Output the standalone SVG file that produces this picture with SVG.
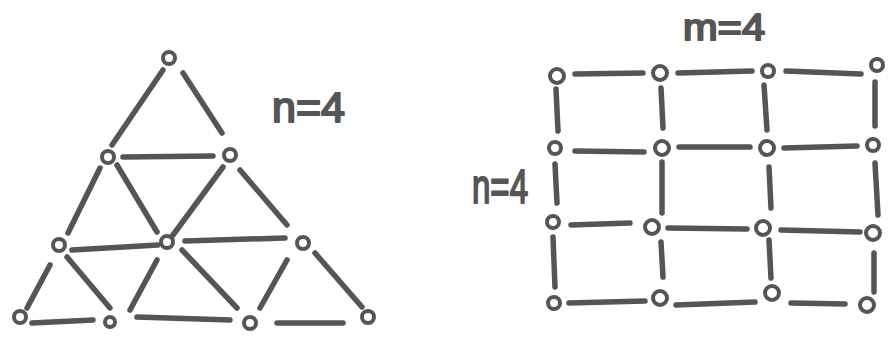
<svg xmlns="http://www.w3.org/2000/svg" width="891" height="338" viewBox="0 0 891 338">
<style>
.e{stroke:#555;stroke-width:5.5;stroke-linecap:round;fill:none}
.n{fill:#fff;stroke:#555;stroke-width:4}
.t{font-family:"Liberation Sans",Arial,sans-serif;fill:#555;stroke:#555;stroke-width:2;stroke-linejoin:round}
</style>
<rect width="891" height="338" fill="#fff"/>
<g id="connectors">
<line class="e" x1="163" y1="70" x2="112" y2="145"/>
<line class="e" x1="183" y1="73" x2="222" y2="133"/>
<line class="e" x1="123" y1="157" x2="213" y2="156"/>
<line class="e" x1="100" y1="168" x2="68" y2="233"/>
<line class="e" x1="117" y1="165" x2="157" y2="232"/>
<line class="e" x1="223" y1="167" x2="173" y2="235"/>
<line class="e" x1="240" y1="170" x2="287" y2="225"/>
<line class="e" x1="72" y1="250" x2="158" y2="245"/>
<line class="e" x1="185" y1="241" x2="285" y2="238"/>
<line class="e" x1="50" y1="265" x2="27" y2="308"/>
<line class="e" x1="67" y1="257" x2="110" y2="308"/>
<line class="e" x1="157" y1="260" x2="130" y2="310"/>
<line class="e" x1="182" y1="250" x2="237" y2="308"/>
<line class="e" x1="287" y1="260" x2="260" y2="308"/>
<line class="e" x1="315" y1="253" x2="362" y2="307"/>
<line class="e" x1="32" y1="323" x2="93" y2="320"/>
<line class="e" x1="137" y1="317" x2="230" y2="320"/>
<line class="e" x1="277" y1="323" x2="343" y2="323"/>
<line class="e" x1="575" y1="74" x2="643" y2="73"/>
<line class="e" x1="678" y1="73" x2="752" y2="71"/>
<line class="e" x1="786" y1="71" x2="861" y2="74"/>
<line class="e" x1="575" y1="151" x2="644" y2="152"/>
<line class="e" x1="679" y1="147" x2="750" y2="147"/>
<line class="e" x1="784" y1="148" x2="857" y2="146"/>
<line class="e" x1="571" y1="225" x2="630" y2="223"/>
<line class="e" x1="668" y1="228" x2="747" y2="229"/>
<line class="e" x1="781" y1="230" x2="860" y2="232"/>
<line class="e" x1="569" y1="303" x2="645" y2="301"/>
<line class="e" x1="676" y1="305" x2="755" y2="302"/>
<line class="e" x1="791" y1="303" x2="845" y2="304"/>
<line class="e" x1="556" y1="89" x2="558" y2="131"/>
<line class="e" x1="555" y1="164" x2="557" y2="203"/>
<line class="e" x1="553" y1="237" x2="555" y2="287"/>
<line class="e" x1="661" y1="88" x2="663" y2="128"/>
<line class="e" x1="662" y1="162" x2="662" y2="213"/>
<line class="e" x1="661" y1="242" x2="663" y2="277"/>
<line class="e" x1="764" y1="85" x2="767" y2="130"/>
<line class="e" x1="769" y1="167" x2="771" y2="208"/>
<line class="e" x1="769" y1="240" x2="771" y2="278"/>
<line class="e" x1="875" y1="82" x2="875" y2="126"/>
<line class="e" x1="875" y1="163" x2="878" y2="215"/>
<line class="e" x1="874" y1="253" x2="874" y2="292"/>
</g>
<g id="t1"><circle class="n" cx="169" cy="58" r="6"/></g>
<g id="t2"><circle class="n" cx="108" cy="157" r="6"/></g>
<g id="t3"><circle class="n" cx="230" cy="155" r="6"/></g>
<g id="t4"><circle class="n" cx="59" cy="245" r="6"/></g>
<g id="t5"><circle class="n" cx="167" cy="242" r="6"/></g>
<g id="t6"><circle class="n" cx="303" cy="243" r="6"/></g>
<g id="t7"><circle class="n" cx="20" cy="317" r="6"/></g>
<g id="t8"><circle class="n" cx="110" cy="322" r="5"/></g>
<g id="t9"><circle class="n" cx="250" cy="323" r="6"/></g>
<g id="t10"><circle class="n" cx="368" cy="317" r="6"/></g>
<g id="g11"><circle class="n" cx="557" cy="76" r="7"/></g>
<g id="g12"><circle class="n" cx="660" cy="73" r="7"/></g>
<g id="g13"><circle class="n" cx="768" cy="71" r="6"/></g>
<g id="g14"><circle class="n" cx="877" cy="65" r="6"/></g>
<g id="g21"><circle class="n" cx="555" cy="148" r="6"/></g>
<g id="g22"><circle class="n" cx="662" cy="148" r="7"/></g>
<g id="g23"><circle class="n" cx="767" cy="148" r="7"/></g>
<g id="g24"><circle class="n" cx="873" cy="145" r="6"/></g>
<g id="g31"><circle class="n" cx="553" cy="222" r="6"/></g>
<g id="g32"><circle class="n" cx="652" cy="227" r="7"/></g>
<g id="g33"><circle class="n" cx="763" cy="228" r="7"/></g>
<g id="g34"><circle class="n" cx="873" cy="233" r="7"/></g>
<g id="g41"><circle class="n" cx="554" cy="303" r="6"/></g>
<g id="g42"><circle class="n" cx="660" cy="298" r="7"/></g>
<g id="g43"><circle class="n" cx="772" cy="293" r="7"/></g>
<g id="g44"><circle class="n" cx="867" cy="305" r="7"/></g>
<text class="t" x="272" y="122" font-size="42" textLength="73" lengthAdjust="spacingAndGlyphs">n=4</text>
<text class="t" x="683" y="40" font-size="36" textLength="82" lengthAdjust="spacingAndGlyphs">m=4</text>
<text class="t" x="472" y="203" font-size="48" textLength="56" lengthAdjust="spacingAndGlyphs">n=4</text>
</svg>
